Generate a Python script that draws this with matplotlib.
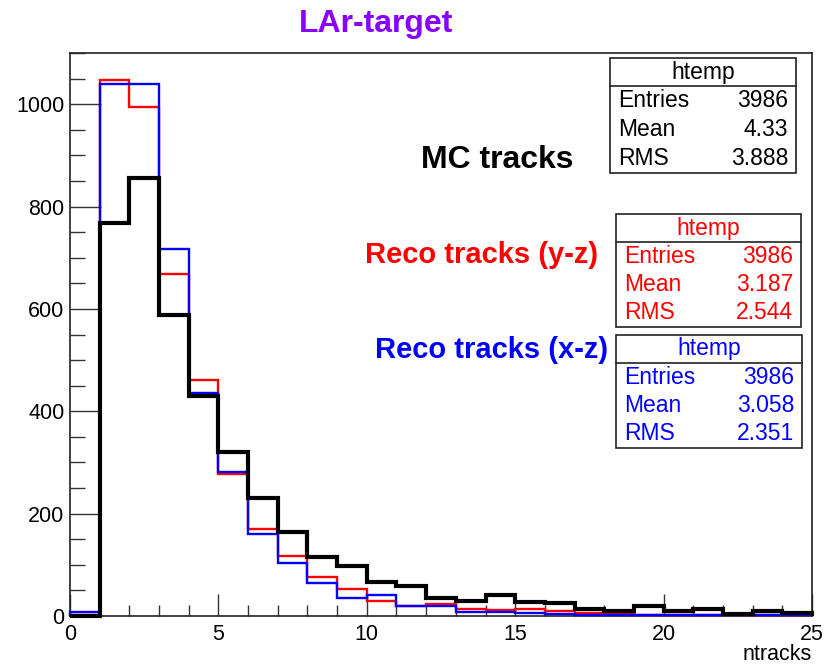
import numpy as np
import matplotlib
matplotlib.use("Agg")
import matplotlib.pyplot as plt
from matplotlib.patches import Rectangle
from matplotlib.ticker import MultipleLocator

plt.rcParams['font.family'] = ['Liberation Sans', 'DejaVu Sans']

# Track multiplicity histograms, one entry per bin of width 1 from 0 to 25
edges = np.arange(0, 26)
mc_tracks = [0, 767, 855, 588, 430, 321, 230, 165, 115, 98, 66, 59, 35, 29,
             42, 28, 26, 13, 10, 20, 10, 13, 3, 9, 6]
reco_yz = [2, 1047, 995, 668, 461, 278, 170, 117, 77, 53, 30, 20, 23, 14,
           12, 13, 10, 6, 3, 2, 2, 1, 1, 1, 1]
reco_xz = [7, 1040, 1040, 718, 435, 282, 160, 104, 64, 36, 41, 20, 20, 8,
           7, 5, 4, 2, 2, 2, 2, 2, 1, 2, 1]

stats_header = "htemp"
stats_labels = ["Entries", "Mean", "RMS"]
stats_mc = ["3986", "4.33", "3.888"]
stats_yz = ["3986", "3.187", "2.544"]
stats_xz = ["3986", "3.058", "2.351"]

W, H = 824, 666
fig = plt.figure(figsize=(W / 100, H / 100), dpi=100)


def fx(px):
    return px / W


def fy(py):
    return 1 - py / H


ax_l, ax_r, ax_t, ax_b = 70, 812, 53, 616
ax = fig.add_axes([fx(ax_l), fy(ax_b), fx(ax_r - ax_l), (ax_b - ax_t) / H])

ax.stairs(reco_yz, edges, color='#ff0000', lw=1.7, zorder=3, clip_on=False)
ax.stairs(reco_xz, edges, color='#0000ff', lw=1.7, zorder=4, clip_on=False)
ax.stairs(mc_tracks, edges, color='black', lw=3.0, zorder=5, clip_on=False)

ax.set_xlim(0, 25)
ax.set_ylim(0, 1100)

ax.xaxis.set_major_locator(MultipleLocator(5))
ax.xaxis.set_minor_locator(MultipleLocator(1))
ax.yaxis.set_major_locator(MultipleLocator(200))
ax.yaxis.set_minor_locator(MultipleLocator(50))
ax.tick_params(axis='both', which='both', direction='in', top=False, right=False,
               width=1.0, colors='#333333', labelcolor='black', labelsize=15.5)
ax.tick_params(axis='y', which='major', length=22, pad=4)
ax.tick_params(axis='y', which='minor', length=11)
ax.tick_params(axis='x', which='major', length=16, pad=6)
ax.tick_params(axis='x', which='minor', length=8)
for s in ax.spines.values():
    s.set_linewidth(1.2)
    s.set_color('#222222')

fig.text(fx(812), fy(655), "ntracks", ha='right', va='center', fontsize=15.5)

fig.text(fx(376), fy(32), "LAr-target", ha='center', va='baseline',
         fontsize=23, fontweight='bold', color='#8800ff')

fig.text(fx(497), fy(168), "MC tracks", ha='center', va='baseline',
         fontsize=23, fontweight='bold', color='black')
fig.text(fx(482), fy(263), "Reco tracks (y-z)", ha='center', va='baseline',
         fontsize=21, fontweight='bold', color='#ff0000')
fig.text(fx(492), fy(358), "Reco tracks (x-z)", ha='center', va='baseline',
         fontsize=21, fontweight='bold', color='#0000ff')


def stats_box(left, right, top, divider, bottom, values, color):
    rect = Rectangle((fx(left), fy(bottom)), fx(right - left), (bottom - top) / H,
                     transform=fig.transFigure, facecolor='white',
                     edgecolor='#222222', lw=1.2, zorder=10)
    fig.add_artist(rect)
    fig.add_artist(plt.Line2D([fx(left), fx(right)], [fy(divider), fy(divider)],
                              transform=fig.transFigure, color='#222222', lw=1.2,
                              zorder=11))
    fig.text(fx((left + right) / 2), fy((top + divider) / 2), stats_header,
             ha='center', va='center', fontsize=16.5, color=color, zorder=12)
    row_h = (bottom - divider) / 3
    for i, (lab, val) in enumerate(zip(stats_labels, values)):
        yc = divider + row_h * (i + 0.5)
        fig.text(fx(left + 8), fy(yc), lab, ha='left', va='center',
                 fontsize=16.5, color=color, zorder=12)
        fig.text(fx(right - 8), fy(yc), val, ha='right', va='center',
                 fontsize=16.5, color=color, zorder=12)


stats_box(610, 796, 58, 86, 173, stats_mc, 'black')
stats_box(616, 801, 214, 242, 327, stats_yz, '#ff0000')
stats_box(616, 802, 335, 363, 448, stats_xz, '#0000ff')

fig.savefig("out.png", dpi=100)
